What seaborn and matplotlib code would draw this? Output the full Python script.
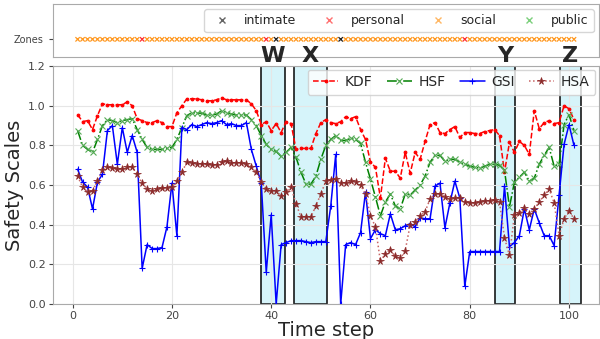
import numpy as np
import pandas as pd
import matplotlib
matplotlib.use('Agg')
import matplotlib.pyplot as plt
import matplotlib.transforms as mtransforms
from matplotlib.lines import Line2D
import seaborn as sns

# time steps and the four safety scales
steps = list(range(1, 102))

kdf = [0.955, 0.92, 0.925, 0.88, 0.95, 1.01, 1.005, 1.005, 1.005, 1.005,
       1.02, 1.00, 0.935, 0.925, 0.915, 0.915, 0.925, 0.915, 0.895, 0.895,
       0.965, 1.00, 1.035, 1.035, 1.035, 1.03, 1.025, 1.025, 1.03, 1.04,
       1.03, 1.03, 1.03, 1.03, 1.03, 1.01, 0.975, 0.905, 0.92, 0.875,
       0.91, 0.865, 0.92, 0.91, 0.78, 0.785, 0.785, 0.785, 0.86, 0.915,
       0.93, 0.915, 0.91, 0.92, 0.945, 0.935, 0.945, 0.88, 0.83, 0.715,
       0.69, 0.535, 0.735, 0.67, 0.67, 0.635, 0.765, 0.66, 0.765, 0.73,
       0.82, 0.905, 0.915, 0.865, 0.86, 0.88, 0.895, 0.84, 0.865, 0.865,
       0.86, 0.86, 0.87, 0.875, 0.88, 0.85, 0.665, 0.815, 0.765, 0.82,
       0.80, 0.755, 0.975, 0.885, 0.915, 0.925, 0.91, 0.915, 1.0, 0.985,
       0.93]

hsf = [0.875, 0.80, 0.78, 0.765, 0.83, 0.90, 0.93, 0.925, 0.915, 0.925,
       0.93, 0.935, 0.88, 0.83, 0.79, 0.78, 0.78, 0.78, 0.785, 0.79,
       0.83, 0.89, 0.95, 0.965, 0.963, 0.963, 0.953, 0.953, 0.958, 0.975,
       0.966, 0.958, 0.953, 0.955, 0.953, 0.93, 0.90, 0.85, 0.805, 0.78,
       0.77, 0.745, 0.765, 0.79, 0.74, 0.665, 0.605, 0.605, 0.645, 0.73,
       0.80, 0.83, 0.85, 0.825, 0.825, 0.835, 0.83, 0.81, 0.715, 0.63,
       0.54, 0.445, 0.515, 0.555, 0.495, 0.48, 0.555, 0.55, 0.575, 0.60,
       0.645, 0.715, 0.75, 0.75, 0.72, 0.73, 0.73, 0.715, 0.705, 0.695,
       0.69, 0.685, 0.695, 0.705, 0.705, 0.70, 0.675, 0.49, 0.615, 0.64,
       0.665, 0.62, 0.635, 0.705, 0.75, 0.79, 0.695, 0.705, 0.905, 0.955,
       0.875]

gsi = [0.68, 0.615, 0.59, 0.48, 0.615, 0.655, 0.875, 0.90, 0.705, 0.89,
       0.765, 0.85, 0.765, 0.18, 0.30, 0.28, 0.28, 0.285, 0.39, 0.61,
       0.345, 0.89, 0.88, 0.905, 0.895, 0.905, 0.915, 0.91, 0.915, 0.925,
       0.905, 0.91, 0.90, 0.90, 0.915, 0.78, 0.695, 0.61, 0.16, 0.45,
       0.0, 0.30, 0.31, 0.32, 0.32, 0.32, 0.315, 0.31, 0.315, 0.315,
       0.315, 0.495, 0.755, 0.0, 0.30, 0.31, 0.30, 0.36, 0.565, 0.33,
       0.375, 0.355, 0.345, 0.455, 0.375, 0.38, 0.395, 0.405, 0.39, 0.435,
       0.43, 0.43, 0.595, 0.61, 0.385, 0.51, 0.62, 0.535, 0.09, 0.265,
       0.265, 0.265, 0.265, 0.265, 0.265, 0.265, 0.595, 0.29, 0.31, 0.345,
       0.48, 0.375, 0.48, 0.41, 0.345, 0.345, 0.295, 0.55, 0.805, 0.905,
       0.80]

hsa = [0.645, 0.59, 0.565, 0.57, 0.62, 0.675, 0.69, 0.685, 0.68, 0.68,
       0.69, 0.69, 0.655, 0.61, 0.58, 0.57, 0.58, 0.583, 0.583, 0.588,
       0.62, 0.665, 0.715, 0.71, 0.705, 0.705, 0.705, 0.70, 0.70, 0.715,
       0.72, 0.71, 0.71, 0.71, 0.705, 0.69, 0.665, 0.615, 0.58, 0.57,
       0.57, 0.545, 0.565, 0.59, 0.505, 0.44, 0.44, 0.44, 0.495, 0.555,
       0.62, 0.625, 0.63, 0.61, 0.61, 0.62, 0.615, 0.60, 0.555, 0.445,
       0.39, 0.215, 0.255, 0.275, 0.24, 0.23, 0.27, 0.40, 0.415, 0.445,
       0.465, 0.53, 0.555, 0.555, 0.54, 0.53, 0.533, 0.533, 0.516, 0.51,
       0.51, 0.515, 0.52, 0.52, 0.525, 0.515, 0.335, 0.245, 0.45, 0.46,
       0.485, 0.455, 0.48, 0.515, 0.55, 0.58, 0.51, 0.345, 0.43, 0.47,
       0.43]

# proxemic zone at each time step
zones = ['social'] * 101
for t in (14, 39, 79):
    zones[t - 1] = 'personal'
for t in (41, 54):
    zones[t - 1] = 'intimate'
zone_names = ['intimate', 'personal', 'social', 'public']
zone_colors = {'intimate': '#222222', 'personal': '#ff3333',
               'social': '#ff9922', 'public': '#44bb44'}

# highlighted windows
regions = {'W': (38.0, 42.7), 'X': (44.6, 51.2),
           'Y': (85.1, 89.2), 'Z': (98.2, 102.4)}

df = pd.DataFrame({'step': steps, 'KDF': kdf, 'HSF': hsf, 'GSI': gsi, 'HSA': hsa})
zdf = pd.DataFrame({'step': steps, 'zone': zones, 'y': 0})

sns.set_style('whitegrid')
plt.rcParams['font.family'] = ['DejaVu Sans']

fig = plt.figure(figsize=(6, 3.39), dpi=100)
ax = fig.add_axes([0.088, 0.103, 0.91, 0.702])
axz = fig.add_axes([0.088, 0.832, 0.91, 0.156], sharex=ax)

# main lines
sns.lineplot(data=df, x='step', y='KDF', ax=ax, color='red', linestyle='--',
             marker='.', markersize=4, mec='red', mfc='red', lw=1.1, label='KDF')
sns.lineplot(data=df, x='step', y='HSF', ax=ax, color='green', linestyle='-.',
             marker='x', markersize=4, mec='#55aa55', mew=0.8, lw=1.1, label='HSF')
sns.lineplot(data=df, x='step', y='GSI', ax=ax, color='blue', linestyle='-',
             marker='+', markersize=5, mec='blue', mew=0.8, lw=1.1, label='GSI')
sns.lineplot(data=df, x='step', y='HSA', ax=ax, color='#c86464', linestyle=':',
             marker='*', markersize=5.5, mec='#8b2a2a', mfc='#8b2a2a', mew=0.5,
             lw=1.1, label='HSA')

letter_tf = mtransforms.blended_transform_factory(ax.transData, fig.transFigure)
for name, (x0, x1) in regions.items():
    ax.axvspan(x0, x1, facecolor='#d2f3fa', edgecolor='black', lw=1.2,
               alpha=0.9, zorder=0.5)
    fig.text((x0 + x1) / 2, 0.835, name, transform=letter_tf,
             ha='center', va='center', fontsize=16, fontweight='bold', zorder=10)

ax.set_ylim(0, 1.2)
ax.set_xlim(-4, 106)
ax.set_yticks([0, 0.2, 0.4, 0.6, 0.8, 1.0, 1.2])
ax.set_xticks([0, 20, 40, 60, 80, 100])
ax.tick_params(labelsize=8, left=True, bottom=True, length=3, pad=2,
               colors='#444444')
ax.set_xlabel('Time step', fontsize=14, labelpad=0)
ax.set_ylabel('Safety Scales', fontsize=14, labelpad=3)
ax.grid(color='#e6e6e6', lw=0.8)
for s in ax.spines.values():
    s.set_color('#aaaaaa')
ax.legend(loc='upper right', ncol=4, fontsize=10, frameon=True,
          borderaxespad=0.25, handlelength=1.8, handletextpad=0.5,
          columnspacing=1.0)

# zones strip
sns.scatterplot(data=zdf, x='step', y='y', hue='zone', palette=zone_colors,
                marker='x', s=10, linewidth=0.9, ax=axz, legend=False)
axz.set_ylim(-0.5, 1.0)
axz.set_yticks([0])
axz.set_yticklabels(['Zones'])
axz.set_xlabel('')
axz.set_ylabel('')
axz.grid(False)
axz.tick_params(labelbottom=False, bottom=False, left=True, length=3,
                labelsize=7, colors='#444444')
for s in axz.spines.values():
    s.set_color('#aaaaaa')
handles = [Line2D([], [], ls='none', marker='x', color=zone_colors[z], alpha=0.7,
                  markersize=5, label=z) for z in zone_names]
axz.legend(handles=handles, loc='upper right', ncol=4, fontsize=9,
           frameon=True, borderaxespad=0.4, columnspacing=1.6)

plt.savefig('out.png', dpi=100)
